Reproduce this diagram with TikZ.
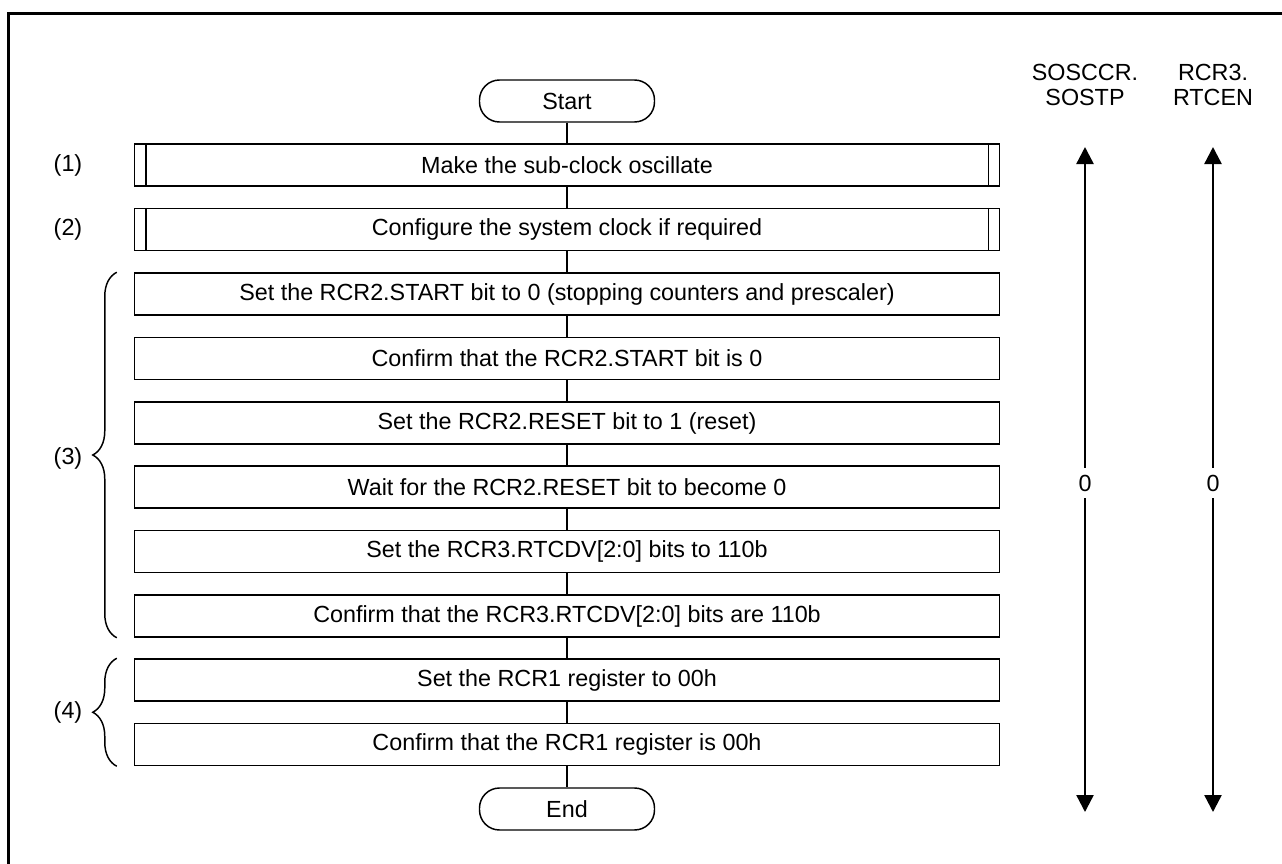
\documentclass[tikz,border=0pt]{standalone}
\usepackage{fontspec}
\setmainfont{Liberation Sans}
\usetikzlibrary{arrows.meta,positioning,decorations.pathreplacing}
\tikzset{
  boite/.style={draw, line width=1.1pt, minimum width=648.75pt, minimum height=31.5pt, inner sep=0pt},
  terminal/.style={draw, line width=1.1pt, rounded corners=15pt, minimum width=131.25pt, minimum height=31.5pt, inner sep=0pt},
  lien/.style={line width=1.1pt},
  fleche/.style={line width=1.8pt, -{Triangle[length=12.75pt,width=12.75pt]}},
  accolade/.style={decorate, decoration={brace, amplitude=18pt}, line width=1.1pt},
}

\begin{document}
\begin{tikzpicture}[x=0.75pt, y=-0.75pt, font=\fontsize{17.5}{18.75}\selectfont]
    \useasboundingbox (0,0) rectangle (1282,864);
    % Cadre
    \draw[line width=2.25pt] (8,864) -- (8,13) -- (1282,13);
    % Début et fin
    \node[terminal] (debut) at (567,101) {Start};
    \node[terminal] (fin) at (567,809) {End};
    % Sous-programmes
    \node[boite] (p1) at (567,165) {Make the sub-clock oscillate};
    \node[boite] (p2) at (567,229.5) {Configure the system clock if required};
    \foreach \n in {p1,p2} {
      \draw[lien] ([xshift=9pt]\n.north west) -- ([xshift=9pt]\n.south west);
      \draw[lien] ([xshift=-9pt]\n.north east) -- ([xshift=-9pt]\n.south east);
    }
    % Étapes
    \node[boite] (b1) at (567,294) {Set the RCR2.START bit to 0 (stopping counters and prescaler)};
    \node[boite] (b2) at (567,358.5) {Confirm that the RCR2.START bit is 0};
    \node[boite] (b3) at (567,423) {Set the RCR2.RESET bit to 1 (reset)};
    \node[boite] (b4) at (567,487) {Wait for the RCR2.RESET bit to become 0};
    \node[boite] (b5) at (567,551.5) {Set the RCR3.RTCDV[2:0] bits to 110b};
    \node[boite] (b6) at (567,616) {Confirm that the RCR3.RTCDV[2:0] bits are 110b};
    \node[boite] (c1) at (567,680) {Set the RCR1 register to 00h};
    \node[boite] (c2) at (567,744.5) {Confirm that the RCR1 register is 00h};
    % Liaisons
    \foreach \a/\b in {debut/p1,p1/p2,p2/b1,b1/b2,b2/b3,b3/b4,b4/b5,b5/b6,b6/c1,c1/c2,c2/fin}
      \draw[lien] (\a) -- (\b);
    % Accolades et numéros
    \draw[accolade] ([xshift=-12.75pt]b6.south west) -- ([xshift=-12.75pt]b1.north west);
    \draw[accolade] ([xshift=-12.75pt]c2.south west) -- ([xshift=-12.75pt]c1.north west);
    \node (n1) at (68,165) {(1)};
    \node (n2) at (68,229.5) {(2)};
    \node (n3) at (68,458) {(3)};
    \node (n4) at (68,712) {(4)};
    % Colonnes de droite
    \node[align=center] (h1) at (1085,84.5) {SOSCCR.\\SOSTP};
    \node[align=center] (h2) at (1213,84.5) {RCR3.\\RTCEN};
    \node[inner sep=5pt] (z1) at (1085,483) {0};
    \node[inner sep=5pt] (z2) at (1213,483) {0};
    \coordinate (h1haut) at (1085,147);
    \coordinate (h1bas) at (1085,812);
    \coordinate (h2haut) at (1213,147);
    \coordinate (h2bas) at (1213,812);
    \draw[fleche] (z1) -- (h1haut);
    \draw[fleche] (z1) -- (h1bas);
    \draw[fleche] (z2) -- (h2haut);
    \draw[fleche] (z2) -- (h2bas);
\end{tikzpicture}
\end{document}
